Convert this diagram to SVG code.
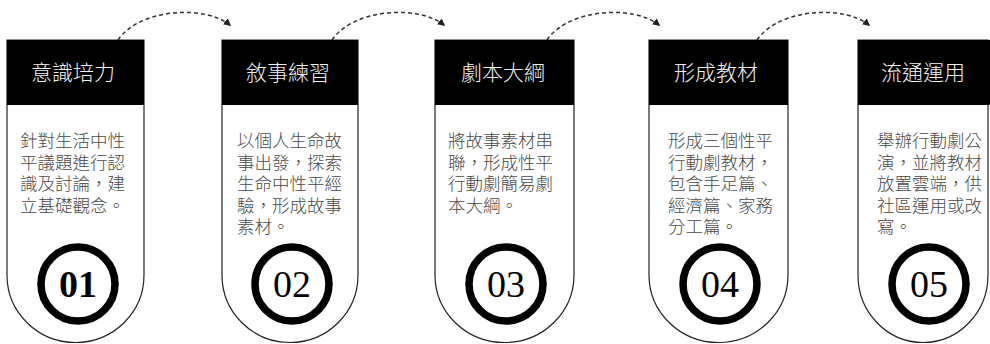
<svg xmlns="http://www.w3.org/2000/svg" width="990" height="344" viewBox="0 0 990 344">
<defs>
<marker id="ah" viewBox="0 0 10 10" refX="8" refY="5" markerWidth="5" markerHeight="5" orient="auto">
<path d="M0,0 L10,5 L0,10 z" fill="#222"/>
</marker>
<style>
.card{fill:#fff;stroke:#222;stroke-width:1.2}
.hdr{fill:#000}
.ht{fill:#f2f2f2;font-family:"Noto Sans CJK TC","Noto Sans CJK SC",sans-serif;font-size:21px;font-weight:300;text-anchor:middle}
.bt{fill:#4a4a4a;font-family:"Noto Sans CJK TC","Noto Sans CJK SC",sans-serif;font-size:17.5px;font-weight:300}
.ring{fill:none;stroke:#000;stroke-width:7.5}
.num{fill:#000;font-family:"Liberation Serif","Times New Roman",serif;font-size:38px;text-anchor:middle}
.con{fill:none;stroke:#333;stroke-width:1.5;stroke-dasharray:4 3}
</style>
</defs>
<rect width="990" height="344" fill="#fff"/>
<g id="connectors">
<path class="con" d="M118,40 C140,8 205,5 230,25" marker-end="url(#ah)"/>
<path class="con" d="M332,40 C354,8 419,5 444,25" marker-end="url(#ah)"/>
<path class="con" d="M547,40 C569,8 634,5 659,25" marker-end="url(#ah)"/>
<path class="con" d="M757,40 C779,8 844,5 869,25" marker-end="url(#ah)"/>
</g>
<g id="node1">
<path class="card" d="M7,40 H144 V275 A68.5 67.5 0 0 1 7,275 Z"/>
<rect class="hdr" x="7" y="40" width="137" height="65"/>
<text class="ht" x="73" y="80">意識培力</text>
<text class="bt"><tspan x="20" y="147">針對生活中性</tspan><tspan x="20" y="168.5">平議題進行認</tspan><tspan x="20" y="190">識及討論，建</tspan><tspan x="20" y="211.5">立基礎觀念。</tspan></text>
<circle class="ring" cx="78" cy="284" r="37"/>
<text class="num" x="78" y="297" font-weight="bold">01</text>
</g>
<g id="node2">
<path class="card" d="M222,40 H358 V275 A68 67.5 0 0 1 222,275 Z"/>
<rect class="hdr" x="222" y="40" width="136" height="65"/>
<text class="ht" x="288" y="80">敘事練習</text>
<text class="bt"><tspan x="237" y="147">以個人生命故</tspan><tspan x="237" y="168.5">事出發，探索</tspan><tspan x="237" y="190">生命中性平經</tspan><tspan x="237" y="211.5">驗，形成故事</tspan><tspan x="237" y="233">素材。</tspan></text>
<circle class="ring" cx="292" cy="284" r="37"/>
<text class="num" x="292" y="297">02</text>
</g>
<g id="node3">
<path class="card" d="M435,40 H574 V275 A69.5 67.5 0 0 1 435,275 Z"/>
<rect class="hdr" x="435" y="40" width="139" height="65"/>
<text class="ht" x="503" y="80">劇本大綱</text>
<text class="bt"><tspan x="448" y="147">將故事素材串</tspan><tspan x="448" y="168.5">聯，形成性平</tspan><tspan x="448" y="190">行動劇簡易劇</tspan><tspan x="448" y="211.5">本大綱。</tspan></text>
<circle class="ring" cx="506" cy="284" r="37"/>
<text class="num" x="506" y="297">03</text>
</g>
<g id="node4">
<path class="card" d="M649,40 H788 V275 A69.5 67.5 0 0 1 649,275 Z"/>
<rect class="hdr" x="649" y="40" width="139" height="65"/>
<text class="ht" x="716" y="80">形成教材</text>
<text class="bt"><tspan x="668" y="147">形成三個性平</tspan><tspan x="668" y="168.5">行動劇教材，</tspan><tspan x="668" y="190">包含手足篇、</tspan><tspan x="668" y="211.5">經濟篇、家務</tspan><tspan x="668" y="233">分工篇。</tspan></text>
<circle class="ring" cx="720" cy="284" r="37"/>
<text class="num" x="720" y="297">04</text>
</g>
<g id="node5">
<path class="card" d="M858,40 H988 V275 A65 67.5 0 0 1 858,275 Z"/>
<rect class="hdr" x="858" y="40" width="132" height="65"/>
<text class="ht" x="923" y="80">流通運用</text>
<text class="bt"><tspan x="877" y="147">舉辦行動劇公</tspan><tspan x="877" y="168.5">演，並將教材</tspan><tspan x="877" y="190">放置雲端，供</tspan><tspan x="877" y="211.5">社區運用或改</tspan><tspan x="877" y="233">寫。</tspan></text>
<circle class="ring" cx="929" cy="284" r="37"/>
<text class="num" x="929" y="297">05</text>
</g>
</svg>
